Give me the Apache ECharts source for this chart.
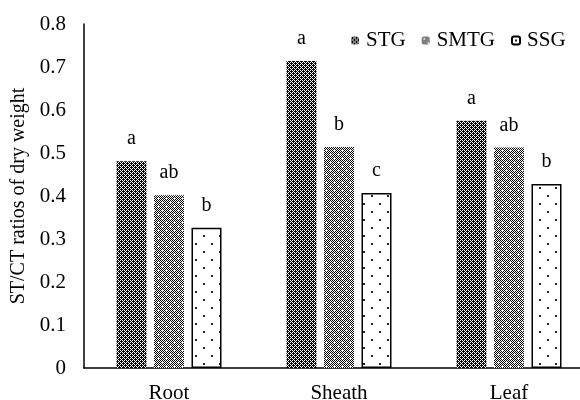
<!DOCTYPE html>
<html>
<head>
<meta charset="utf-8">
<script src="https://cdn.jsdelivr.net/npm/echarts@6/dist/echarts.min.js"></script>
<style>
  html, body { margin: 0; padding: 0; background: #fff; }
  #chart { width: 580px; height: 400px; }
</style>
</head>
<body>
<div id="chart"></div>
<script>
// Tissue categories and ST/CT ratio of dry weight for each treatment
const categories = ['Root', 'Sheath', 'Leaf'];
const seriesNames = ['STG', 'SMTG', 'SSG'];
const stgValues = [0.481, 0.714, 0.575];
const smtgValues = [0.402, 0.514, 0.513];
const ssgValues = [0.326, 0.407, 0.428];
// Significance letters shown above each bar
const stgLetters = ['a', 'a', 'a'];
const smtgLetters = ['ab', 'b', 'ab'];
const ssgLetters = ['b', 'c', 'b'];
const yTicks = [0, 0.1, 0.2, 0.3, 0.4, 0.5, 0.6, 0.7, 0.8];

const FONT = '"Liberation Serif", "Times New Roman", serif';

function makeTile(w, h, draw) {
  const c = document.createElement('canvas');
  c.width = w; c.height = h;
  const ctx = c.getContext('2d');
  ctx.fillStyle = '#fff';
  ctx.fillRect(0, 0, w, h);
  draw(ctx);
  return c;
}

// Dark cross hatch: staggered black plus shapes
const crossTile = makeTile(4, 4, ctx => {
  ctx.fillStyle = '#000';
  const black = [[1,0],[3,0],[0,1],[1,1],[2,1],[1,2],[3,2],[0,3],[2,3],[3,3]];
  black.forEach(([x, y]) => ctx.fillRect(x, y, 1, 1));
});

// Medium checkerboard with small white spots
const checkTile = makeTile(8, 8, ctx => {
  ctx.fillStyle = '#000';
  for (let y = 0; y < 8; y++) {
    for (let x = 0; x < 8; x++) {
      if ((x + y) % 2 === 0 && !((x === 2 && y === 2) || (x === 6 && y === 6))) {
        ctx.fillRect(x, y, 1, 1);
      }
    }
  }
});

// Sparse staggered dots on white
const dotTile = makeTile(16, 16, ctx => {
  ctx.fillStyle = '#222';
  ctx.fillRect(3, 3, 2, 2);
  ctx.fillRect(11, 11, 2, 2);
});

const patterns = [
  { image: crossTile, repeat: 'repeat' },
  { image: checkTile, repeat: 'repeat' },
  { image: dotTile, repeat: 'repeat' }
];
const borders = [
  { borderWidth: 0 },
  { borderWidth: 0 },
  { borderWidth: 1.5, borderColor: '#000' }
];
const values = [stgValues, smtgValues, ssgValues];
const letters = [stgLetters, smtgLetters, ssgLetters];

const chart = echarts.init(document.getElementById('chart'), null, { renderer: 'canvas' });

chart.setOption({
  animation: false,
  backgroundColor: '#fff',
  textStyle: { fontFamily: FONT, color: '#000' },
  legend: {
    data: seriesNames,
    left: 346,
    top: 25,
    itemWidth: 8,
    itemHeight: 8,
    itemGap: 16,
    textStyle: { fontFamily: FONT, fontSize: 21, color: '#000', padding: [0, 0, 0, 2] }
  },
  grid: { left: 84, right: -14, top: 24, bottom: 32, containLabel: false, outerBoundsMode: 'none' },
  xAxis: {
    type: 'category',
    data: categories,
    axisLine: { lineStyle: { color: '#000', width: 1.5 } },
    axisTick: { show: false },
    axisLabel: { fontFamily: FONT, fontSize: 21, color: '#000', margin: 15 },
    splitLine: { show: false }
  },
  yAxis: {
    type: 'value',
    min: yTicks[0],
    max: yTicks[yTicks.length - 1],
    interval: 0.1,
    name: 'ST/CT ratios of dry weight',
    nameLocation: 'middle',
    nameGap: 53,
    nameTextStyle: { fontFamily: FONT, fontSize: 20, color: '#000' },
    axisLine: { show: true, lineStyle: { color: '#000', width: 1.5 } },
    axisTick: { show: false },
    splitLine: { show: false },
    axisLabel: {
      fontFamily: FONT, fontSize: 21, color: '#000', margin: 18,
      formatter: v => String(Math.round(v * 10) / 10)
    }
  },
  series: seriesNames.map((name, i) => ({
    name,
    type: 'bar',
    data: values[i],
    barWidth: 30,
    barGap: '25%',
    itemStyle: Object.assign({ color: patterns[i] }, borders[i]),
    label: {
      show: true,
      position: 'top',
      distance: 12,
      fontFamily: FONT,
      fontSize: 20,
      color: '#000',
      formatter: p => letters[i][p.dataIndex]
    }
  }))
});
</script>
</body>
</html>
